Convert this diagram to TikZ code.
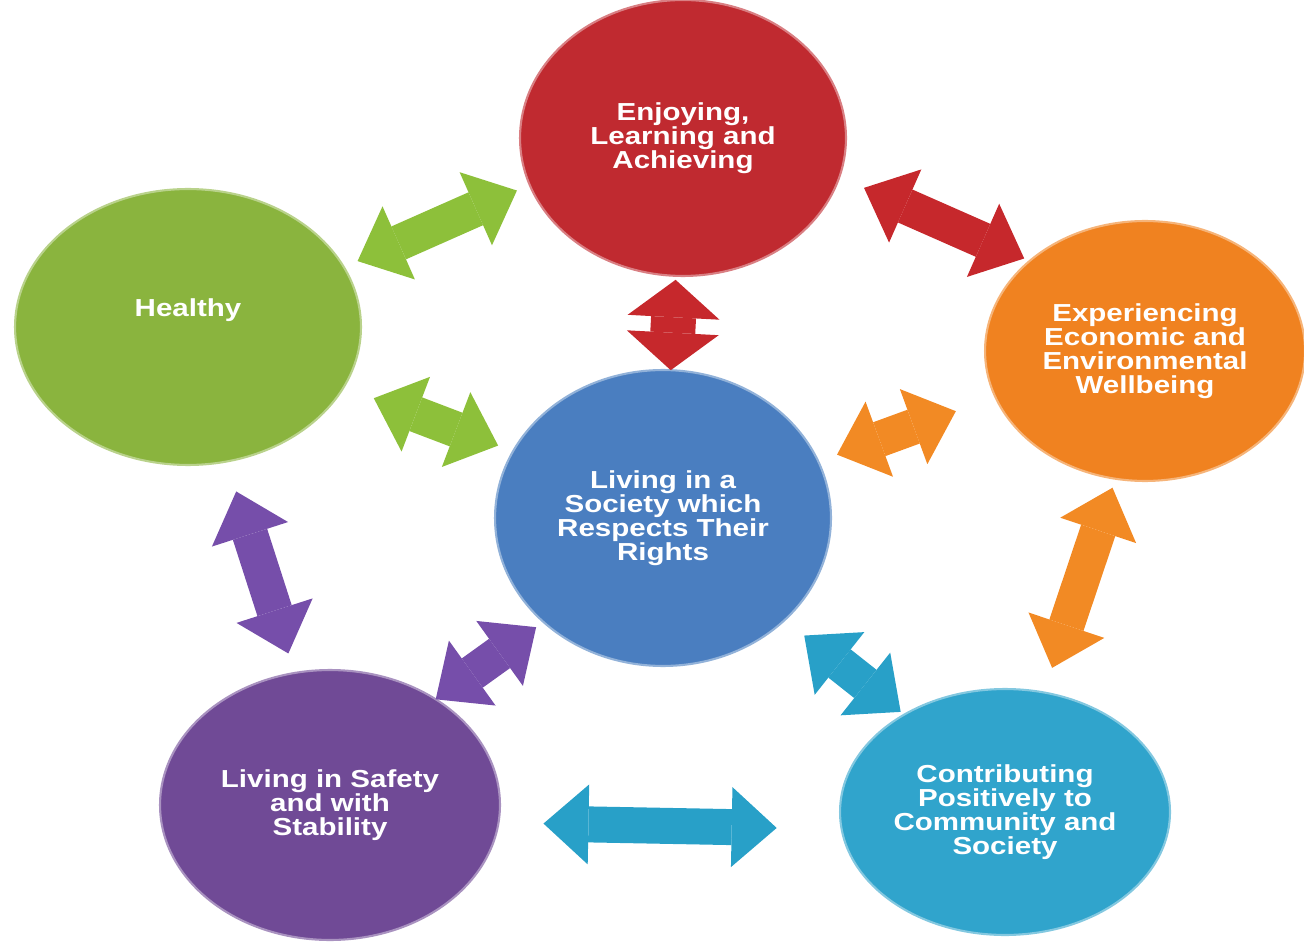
\documentclass[tikz,border=0pt]{standalone}
\usepackage{fontspec}
\newfontfamily\goalfont{Liberation Sans}[FakeStretch=1.2]
\usetikzlibrary{arrows.meta,shapes.geometric}
\definecolor{enjoyred}{RGB}{192,42,48}
\definecolor{healthgreen}{RGB}{138,180,62}
\definecolor{econorange}{RGB}{240,130,32}
\definecolor{rightsblue}{RGB}{74,126,192}
\definecolor{safepurple}{RGB}{112,74,150}
\definecolor{commteal}{RGB}{48,164,204}
\definecolor{linkgreen}{RGB}{141,192,58}
\definecolor{linkred}{RGB}{198,40,44}
\definecolor{linkorange}{RGB}{242,138,36}
\definecolor{linkpurple}{RGB}{118,78,170}
\definecolor{linkteal}{RGB}{40,160,200}
\begin{document}
\begin{tikzpicture}[x=0.02cm, y=-0.02cm, >={Triangle[width=1.6cm,length=0.9cm,line width=0pt]}, line cap=butt,
    goal/.style={ellipse, fill=#1, draw=#1!60!white, line width=1.2pt, inner sep=0pt, outer sep=0pt,
      text=white, align=center, font=\goalfont\bfseries\fontsize{14}{13.7}\selectfont},
    link/.style={<->, draw=#1, line width=0.72cm}]
  \useasboundingbox (0,0) rectangle (1304,952);
  \node[goal=enjoyred, minimum width=6.52cm, minimum height=5.52cm] (enjoy) at (683,138) {Enjoying,\\Learning and\\Achieving};
  \node[goal=healthgreen, minimum width=6.92cm, minimum height=5.52cm] (healthy) at (188,327) {\raisebox{0.34cm}[\height][\depth]{Healthy}};
  \node[goal=econorange, minimum width=6.4cm, minimum height=5.2cm] (exper) at (1145,351) {Experiencing\\Economic and\\Environmental\\Wellbeing};
  \node[goal=rightsblue, minimum width=6.72cm, minimum height=5.92cm] (center) at (663,518) {Living in a\\Society which\\Respects Their\\Rights};
  \node[goal=safepurple, minimum width=6.8cm, minimum height=5.4cm] (safety) at (330,805) {Living in Safety\\and with\\Stability};
  \node[goal=commteal, minimum width=6.6cm, minimum height=4.92cm] (contrib) at (1005,812) {Contributing\\Positively to\\Community and\\Society};
  \draw[link=linkgreen, shorten <=0.3cm, shorten >=0.28cm] (healthy.21)--(enjoy.197);
  \draw[link=linkred, shorten <=0.54cm, shorten >=0.12cm] (enjoy.-14)--(exper.142);
  \draw[link=linkred, line width=0.9cm, >={Triangle[width=1.84cm,length=0.75cm,line width=0pt]}, shorten <=0.08cm] (enjoy.-93)--(center.87);
  \draw[link=linkgreen, shorten <=0.64cm, shorten >=0.32cm] (healthy.-21)--(center.156);
  \draw[link=linkorange, shorten <=0.4cm, shorten >=0.84cm] (center.20)--(exper.197);
  \draw[link=linkpurple, shorten <=0.63cm, shorten >=0.41cm] (healthy.-74)--(safety.105);
  \draw[link=linkorange, shorten <=0.19cm, shorten >=0.52cm] (exper.-103)--(contrib.72);
  \draw[link=linkpurple, shorten <=0.18cm] (center.221)--(safety.45);
  \draw[link=linkteal, shorten <=0.5cm, shorten >=0.09cm] (center.-40)--(contrib.136);
  \draw[link=linkteal, shorten <=0.9cm, shorten >=1.3cm] (safety.-6)--(contrib.186);
\end{tikzpicture}
\end{document}
